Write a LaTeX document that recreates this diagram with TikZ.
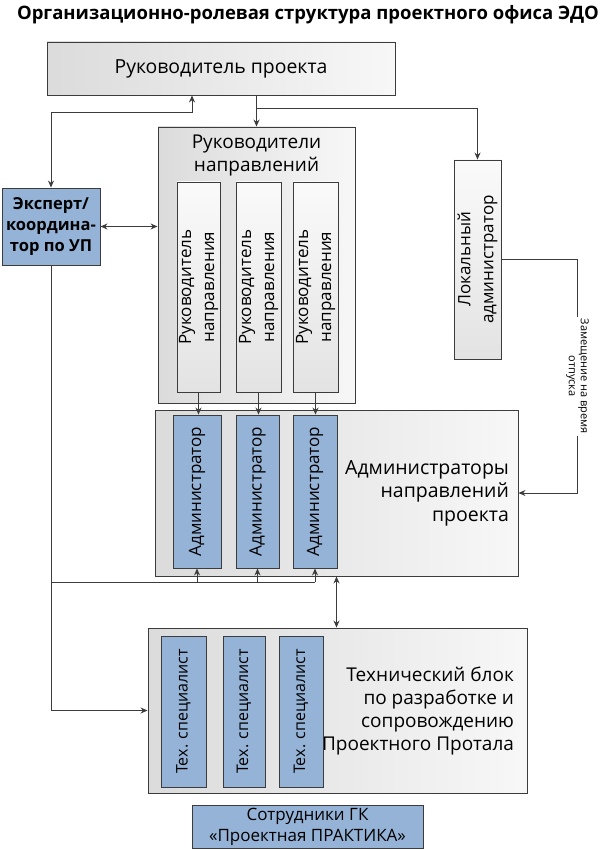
\documentclass[tikz,border=0pt]{standalone}
\usepackage{fontspec}
\setmainfont{Open Sans}
\usetikzlibrary{arrows.meta,positioning}
\definecolor{boxblue}{RGB}{149,179,215}
\definecolor{linegray}{RGB}{60,60,60}

\begin{document}
\begin{tikzpicture}[x=1pt,y=-1pt,>={Stealth[length=7pt,width=6pt]},
    grayblock/.style={rectangle,draw=linegray,line width=0.9pt,left color=gray!28,right color=gray!6},
    leadbox/.style={rectangle,draw=linegray,line width=0.9pt,top color=gray!4,bottom color=gray!22,rotate=90,align=center,inner sep=1pt},
    blueblock/.style={rectangle,draw=linegray,line width=0.9pt,fill=boxblue},
    conn/.style={draw=linegray,line width=1pt}]
    \useasboundingbox (0,0) rectangle (604,850);
    \node [font=\bfseries\fontsize{18.5}{22}\selectfont] (title) at (308,15) {Организационно-ролевая структура проектного офиса ЭДО};
    \node [grayblock,minimum width=348pt,minimum height=53pt,font=\fontsize{19.4}{23}\selectfont] (mgr) at (221,68.5) {Руководитель проекта};
    \node [blueblock,minimum width=98pt,minimum height=77pt,align=center,inner sep=1pt,font=\bfseries\fontsize{16.5}{21}\selectfont] (exp) at (51,226.5) {Эксперт/\\координа-\\тор по УП};
    % руководители направлений
    \node [grayblock,minimum width=197pt,minimum height=276pt] (heads) at (256.5,265) {};
    \node [align=center,font=\fontsize{19}{23}\selectfont,below=5pt of heads.north] (headsTxt) {Руководители\\направлений};
    \node [leadbox,minimum width=210pt,minimum height=43pt,font=\fontsize{17}{23}\selectfont] (rn1) at (198.5,287) {Руководитель\\направления};
    \node [leadbox,minimum width=210pt,minimum height=45pt,font=\fontsize{17}{23}\selectfont] (rn2) at (258.5,287) {Руководитель\\направления};
    \node [leadbox,minimum width=210pt,minimum height=45pt,font=\fontsize{17}{23}\selectfont] (rn3) at (315.5,287) {Руководитель\\направления};
    \node [leadbox,minimum width=199pt,minimum height=47pt,font=\fontsize{17}{23}\selectfont] (loc) at (477.5,259.5) {Локальный\\администратор};
    % администраторы
    \node [grayblock,minimum width=363pt,minimum height=166pt] (adm) at (336.5,493) {};
    \node [align=right,font=\fontsize{19.5}{23.5}\selectfont,left=6pt of adm.east] (admTxt) {Администраторы\\направлений\\проекта};
    \node [blueblock,rotate=90,minimum width=153pt,minimum height=48pt,font=\fontsize{17}{20}\selectfont] (a1) at (197,491.5) {Администратор};
    \node [blueblock,rotate=90,minimum width=153pt,minimum height=43pt,font=\fontsize{17}{20}\selectfont] (a2) at (257.5,491.5) {Администратор};
    \node [blueblock,rotate=90,minimum width=153pt,minimum height=44pt,font=\fontsize{17}{20}\selectfont] (a3) at (315,491.5) {Администратор};
    % технический блок
    \node [grayblock,minimum width=379pt,minimum height=165pt] (tech) at (337.5,710.5) {};
    \node [align=right,font=\fontsize{19}{23}\selectfont,left=10pt of tech.east] (techTxt) {Технический блок\\по разработке и\\сопровождению\\Проектного Протала};
    \node [blueblock,rotate=90,minimum width=151pt,minimum height=45pt,font=\fontsize{16}{18}\selectfont] (t1) at (183.5,711.5) {Тех. специалист};
    \node [blueblock,rotate=90,minimum width=151pt,minimum height=42pt,font=\fontsize{16}{18}\selectfont] (t2) at (244,711.5) {Тех. специалист};
    \node [blueblock,rotate=90,minimum width=151pt,minimum height=44pt,font=\fontsize{16}{18}\selectfont] (t3) at (301,711.5) {Тех. специалист};
    \node [blueblock,minimum width=231pt,minimum height=43pt,align=center,inner sep=1pt,font=\fontsize{17}{21}\selectfont] (staff) at (307.5,826.5) {Сотрудники ГК\\«Проектная ПРАКТИКА»};
    \coordinate (bus) at (0,582);
    \draw [conn,->] (heads.north |- mgr.south) -- (heads.north);
    \draw [conn,->] (heads.north |- mgr.south) -- ++(0,13) -| (loc.east);
    \draw [conn,<->] (exp.north) -- ++(0,-75) -| ([xshift=-29pt]mgr.south);
    \draw [conn,<->] (exp.east) -- (exp.east -| heads.west);
    \draw [conn,->] (rn1.west) -- (rn1.west |- a1.east);
    \draw [conn,->] (rn2.west) -- (rn2.west |- a2.east);
    \draw [conn,->] (rn3.west) -- (rn3.west |- a3.east);
    \draw [conn,->] (exp.south) |- (tech.west);
    \draw [conn] (exp.south |- bus) -- (a3.west |- bus);
    \draw [conn,->] (a1.west |- bus) -- (a1.west);
    \draw [conn,->] (a2.west |- bus) -- (a2.west);
    \draw [conn,->] (a3.west |- bus) -- (a3.west);
    \draw [conn,<->] (adm.south) -- (adm.south |- tech.north);
    \draw [conn,->] (loc.south) -- ++(76,0) |- node [pos=0.25,fill=white,rotate=-90,align=center,inner sep=2pt,font=\fontsize{11}{12}\selectfont] (awayTxt) {Замещение на время\\отпуска} (adm.east);
  \end{tikzpicture}
\end{document}
